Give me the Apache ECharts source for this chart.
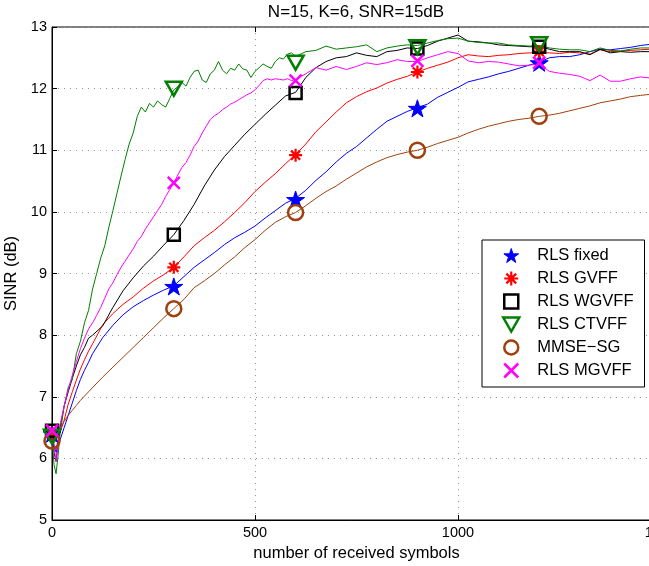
<!DOCTYPE html>
<html>
<head>
<meta charset="utf-8">
<script src="https://cdn.jsdelivr.net/npm/echarts@6/dist/echarts.min.js"></script>
<style>
html, body { margin: 0; padding: 0; background: #fff; }
#chart { width: 649px; height: 566px; }
</style>
</head>
<body>
<div id="chart"></div>
<script>
var dom = document.getElementById("chart");
var myChart = echarts.init(dom);
var FONT = 'Liberation Sans';

// x positions (number of received symbols)
var xCoarse = [0, 5, 10, 15, 20, 30, 40, 50, 60, 70, 80, 90, 100,
    125, 150, 175, 200, 225, 250, 275, 300, 325, 350, 375, 400, 425, 450, 475, 500,
    525, 550, 575, 600, 625, 650, 675, 700, 725, 750, 775, 800, 825, 850, 875, 900,
    925, 950, 975, 1000, 1025, 1050, 1075, 1100, 1125, 1150, 1175, 1200,
    1225, 1250, 1275, 1300, 1325, 1350, 1375, 1400, 1425, 1450, 1475];
var xFine = [0, 5, 10, 15, 20, 30, 40, 50, 60, 70, 80, 90, 100,
    110, 120, 130, 140, 150, 160, 170, 180, 190, 200,
    210, 220, 230, 240, 250, 260, 270, 280, 290, 300,
    310, 320, 330, 340, 350, 360, 370, 380, 390, 400,
    410, 420, 430, 440, 450, 460, 470, 480, 490, 500,
    510, 520, 530, 540, 550, 560, 570, 580, 590, 600,
    625, 650, 675, 700, 725, 750, 775, 800, 825, 850, 875, 900,
    925, 950, 975, 1000, 1025, 1050, 1075, 1100, 1125, 1150, 1175, 1200,
    1225, 1250, 1275, 1300, 1325, 1350, 1375, 1400, 1425, 1450, 1475];

// SINR curves (dB)
var rlsFixed = [6.40, 6.20, 6.10, 6.20, 6.30, 6.50, 6.70, 6.90, 7.10, 7.28, 7.43, 7.56, 7.70,
    7.96, 8.16, 8.33, 8.46, 8.56, 8.65, 8.73, 8.80, 8.95, 9.10, 9.22, 9.34, 9.47, 9.58, 9.67, 9.77,
    9.90, 10.02, 10.14, 10.22, 10.35, 10.51, 10.65, 10.81, 10.95, 11.06, 11.20, 11.34, 11.47, 11.55, 11.63, 11.69,
    11.75, 11.86, 11.94, 12.02, 12.11, 12.15, 12.19, 12.24, 12.28, 12.33, 12.38, 12.43,
    12.50, 12.52, 12.52, 12.55, 12.60, 12.64, 12.63, 12.65, 12.67, 12.70, 12.72];
var rlsGvff = [6.40, 6.20, 6.15, 6.30, 6.42, 6.62, 6.88, 7.08, 7.27, 7.45, 7.60, 7.74, 7.86,
    8.17, 8.35, 8.50, 8.62, 8.76, 8.88, 8.98, 9.10, 9.27, 9.45, 9.58, 9.70, 9.84, 9.99, 10.15, 10.33,
    10.48, 10.62, 10.78, 10.93, 11.10, 11.30, 11.46, 11.62, 11.77, 11.87, 11.95, 12.01, 12.09, 12.15, 12.20, 12.27,
    12.33, 12.38, 12.43, 12.50, 12.55, 12.53, 12.52, 12.54, 12.55, 12.57, 12.58, 12.58,
    12.58, 12.57, 12.59, 12.58, 12.56, 12.63, 12.60, 12.61, 12.62, 12.63, 12.64];
var rlsWgvff = [6.45, 6.10, 5.95, 6.25, 6.50, 6.85, 7.08, 7.30, 7.50, 7.68, 7.80, 7.95, 8.00,
    8.15, 8.45, 8.72, 8.93, 9.12, 9.28, 9.46, 9.63, 9.86, 10.12, 10.42, 10.68, 10.90, 11.08, 11.26, 11.42,
    11.58, 11.73, 11.88, 11.94, 12.18, 12.34, 12.44, 12.50, 12.52, 12.58, 12.54, 12.52, 12.60, 12.62, 12.66, 12.65,
    12.70, 12.77, 12.82, 12.87, 12.77, 12.76, 12.74, 12.71, 12.70, 12.69, 12.68, 12.68,
    12.64, 12.60, 12.60, 12.60, 12.55, 12.64, 12.58, 12.60, 12.59, 12.60, 12.60];
var mmseSg = [6.30, 6.25, 6.30, 6.40, 6.48, 6.60, 6.70, 6.78, 6.86, 6.94, 7.01, 7.08, 7.15,
    7.32, 7.48, 7.64, 7.80, 7.96, 8.12, 8.28, 8.43, 8.58, 8.77, 8.88, 9.00, 9.14, 9.27, 9.42, 9.55,
    9.70, 9.83, 9.92, 9.99, 10.10, 10.22, 10.33, 10.42, 10.53, 10.63, 10.73, 10.81, 10.88, 10.93, 10.97, 11.00,
    11.05, 11.11, 11.16, 11.21, 11.28, 11.34, 11.39, 11.43, 11.47, 11.50, 11.52, 11.55,
    11.57, 11.60, 11.64, 11.68, 11.72, 11.77, 11.80, 11.83, 11.87, 11.89, 11.91];
var rlsCtvff = [6.35, 5.90, 5.75, 6.05, 6.40, 6.85, 7.15, 7.28, 7.70, 7.90, 8.20, 8.40, 8.75,
    9.00, 9.25, 9.45, 9.75, 10.02, 10.30, 10.58, 10.85, 11.10, 11.28,
    11.55, 11.70, 11.62, 11.76, 11.70, 11.80, 11.74, 11.70, 11.84, 11.98,
    12.03, 12.10, 12.04, 12.18, 12.28, 12.30, 12.14, 12.10, 12.24, 12.30,
    12.44, 12.30, 12.24, 12.33, 12.30, 12.40, 12.32, 12.30, 12.18, 12.28,
    12.34, 12.40, 12.36, 12.33, 12.44, 12.50, 12.48, 12.56, 12.58, 12.52,
    12.60, 12.62, 12.69, 12.64, 12.66, 12.68, 12.71, 12.60, 12.66, 12.69, 12.71, 12.70,
    12.74, 12.78, 12.81, 12.82, 12.77, 12.75, 12.74, 12.74, 12.71, 12.70, 12.69, 12.70,
    12.66, 12.64, 12.63, 12.63, 12.60, 12.66, 12.62, 12.61, 12.64, 12.66, 12.66];
var rlsMgvff = [6.45, 6.20, 5.95, 6.20, 6.55, 6.85, 7.12, 7.35, 7.57, 7.78, 7.95, 8.10, 8.20,
    8.32, 8.45, 8.60, 8.75, 8.85, 8.98, 9.10, 9.20, 9.30, 9.40,
    9.52, 9.60, 9.72, 9.82, 9.92, 10.02, 10.12, 10.25, 10.36, 10.47,
    10.60, 10.72, 10.80, 10.92, 11.06, 11.15, 11.28, 11.39, 11.50, 11.56,
    11.60, 11.66, 11.70, 11.75, 11.78, 11.82, 11.86, 11.90, 11.93, 11.98,
    12.05, 12.13, 12.16, 12.14, 12.16, 12.15, 12.14, 12.16, 12.13, 12.15,
    12.24, 12.34, 12.30, 12.36, 12.31, 12.36, 12.42, 12.39, 12.42, 12.47, 12.44, 12.44,
    12.50, 12.55, 12.60, 12.57, 12.45, 12.42, 12.44, 12.43, 12.40, 12.37, 12.38, 12.40,
    12.28, 12.25, 12.23, 12.20, 12.13, 12.22, 12.12, 12.12, 12.16, 12.19, 12.17];

// marker positions
var markerX = [0, 300, 600, 900, 1200];
var markFixed = [6.40, 8.79, 10.20, 11.68, 12.42];
var markGvff = [6.40, 9.10, 10.92, 12.27, 12.60];
var markWgvff = [6.45, 9.63, 11.93, 12.65, 12.68];
var markCtvff = [6.35, 12.00, 12.42, 12.67, 12.72];
var markMmse = [6.28, 8.43, 9.99, 11.00, 11.55];
var markMgvff = [6.45, 10.47, 12.13, 12.45, 12.42];

var STAR = 'path://M0,-1L0.223,-0.307L0.951,-0.309L0.361,0.117L0.588,0.809L0,0.38L-0.588,0.809L-0.361,0.117L-0.951,-0.309L-0.223,-0.307Z';
var ASTER = 'path://M0,-1L0,1M-1,0L1,0M-0.7,-0.7L0.7,0.7M-0.7,0.7L0.7,-0.7';
var SQUARE = 'path://M-1,-1L1,-1L1,1L-1,1Z';
var TRI_DOWN = 'path://M-1,-0.85L1,-0.85L0,0.9Z';
var CIRCLE = 'path://M-1,0A1,1,0,1,1,1,0A1,1,0,1,1,-1,0Z';
var CROSS = 'path://M-1,-1L1,1M-1,1L1,-1';

var curves = [
    { name: 'RLS fixed', xs: xCoarse, ys: rlsFixed, marks: markFixed, color: '#0000ff', symbol: STAR, size: 18, filled: true, bw: 1 },
    { name: 'RLS GVFF', xs: xCoarse, ys: rlsGvff, marks: markGvff, color: '#ff0000', symbol: ASTER, size: 13, filled: false, bw: 2.2 },
    { name: 'RLS WGVFF', xs: xCoarse, ys: rlsWgvff, marks: markWgvff, color: '#000000', symbol: SQUARE, size: 12, filled: false, bw: 2.5 },
    { name: 'RLS CTVFF', xs: xFine, ys: rlsCtvff, marks: markCtvff, color: '#007f00', symbol: TRI_DOWN, size: 16, filled: false, bw: 2.5 },
    { name: 'MMSE\u2212SG', xs: xCoarse, ys: mmseSg, marks: markMmse, color: '#a0410d', symbol: CIRCLE, size: 15, filled: false, bw: 2.5 },
    { name: 'RLS MGVFF', xs: xFine, ys: rlsMgvff, marks: markMgvff, color: '#ff00ff', symbol: CROSS, size: 12, filled: false, bw: 2.5 }
];

function pairs(xs, ys) {
    return xs.map(function (x, i) { return [x, ys[i]]; });
}

var series = [];
curves.forEach(function (c) {
    series.push({
        name: c.name + ' curve',
        type: 'line',
        data: pairs(c.xs, c.ys),
        showSymbol: false,
        symbol: 'none',
        silent: true,
        z: 2,
        lineStyle: { width: 1, color: c.color },
        itemStyle: { color: c.color }
    });
});
curves.forEach(function (c) {
    series.push({
        name: c.name,
        type: 'scatter',
        data: pairs(markerX, c.marks),
        symbol: c.symbol,
        symbolSize: c.size,
        symbolKeepAspect: true,
        silent: true,
        z: 3,
        itemStyle: {
            color: c.filled ? c.color : 'rgba(0,0,0,0)',
            borderColor: c.color,
            borderWidth: c.bw,
            opacity: 1
        }
    });
});

function plain(v) { return String(v); }

option = {
    animation: false,
    backgroundColor: '#fff',
    title: {
        text: 'N=15, K=6, SNR=15dB',
        left: 356,
        top: 4,
        padding: 0,
        textAlign: 'center',
        textStyle: { fontFamily: FONT, fontSize: 17, fontWeight: 'normal', color: '#000' }
    },
    legend: {
        data: curves.map(function (c) {
            return { name: c.name, itemStyle: { borderWidth: c.bw } };
        }),
        orient: 'vertical',
        left: 482,
        top: 240,
        padding: [7, 11, 8, 20],
        itemWidth: 42,
        itemHeight: 14,
        itemGap: 6,
        backgroundColor: '#fff',
        borderColor: '#000',
        borderWidth: 1,
        borderRadius: 0,
        selectedMode: false,
        textStyle: { fontFamily: FONT, fontSize: 16.5, color: '#000' }
    },
    grid: {
        left: 52,
        top: 27,
        width: 609,
        height: 493,
        containLabel: false,
        outerBoundsMode: 'none',
        show: true,
        borderColor: '#000',
        borderWidth: 1
    },
    xAxis: [{
        type: 'value',
        min: 0,
        max: 1500,
        interval: 500,
        name: 'number of received symbols',
        nameLocation: 'middle',
        nameGap: 19,
        nameTextStyle: { fontFamily: FONT, fontSize: 16.5, color: '#000' },
        axisLine: { lineStyle: { color: '#000', width: 1 } },
        axisTick: { inside: true, length: 5, lineStyle: { color: '#000' } },
        axisLabel: { fontFamily: FONT, fontSize: 14.5, color: '#000', margin: 5, formatter: plain },
        splitLine: { show: true, lineStyle: { color: '#999', type: [1, 5], width: 1 } }
    }, {
        type: 'value',
        position: 'top',
        min: 0,
        max: 1500,
        interval: 500,
        axisLine: { show: false },
        axisTick: { inside: true, length: 5, lineStyle: { color: '#000' } },
        axisLabel: { show: false },
        splitLine: { show: false }
    }],
    yAxis: {
        type: 'value',
        min: 5,
        max: 13,
        interval: 1,
        name: 'SINR (dB)',
        nameLocation: 'middle',
        nameGap: 21,
        nameRotate: 90,
        nameTextStyle: { fontFamily: FONT, fontSize: 16.5, color: '#000' },
        axisLine: { show: true, lineStyle: { color: '#000', width: 1 } },
        axisTick: { show: true, inside: true, length: 5, lineStyle: { color: '#000' } },
        axisLabel: { fontFamily: FONT, fontSize: 14.5, color: '#000', margin: 5, formatter: plain },
        splitLine: { show: true, lineStyle: { color: '#999', type: [1, 5], width: 1 } }
    },
    series: series
};

if (option && typeof option === "object") {
    myChart.setOption(option, true);
}
</script>
</body>
</html>
